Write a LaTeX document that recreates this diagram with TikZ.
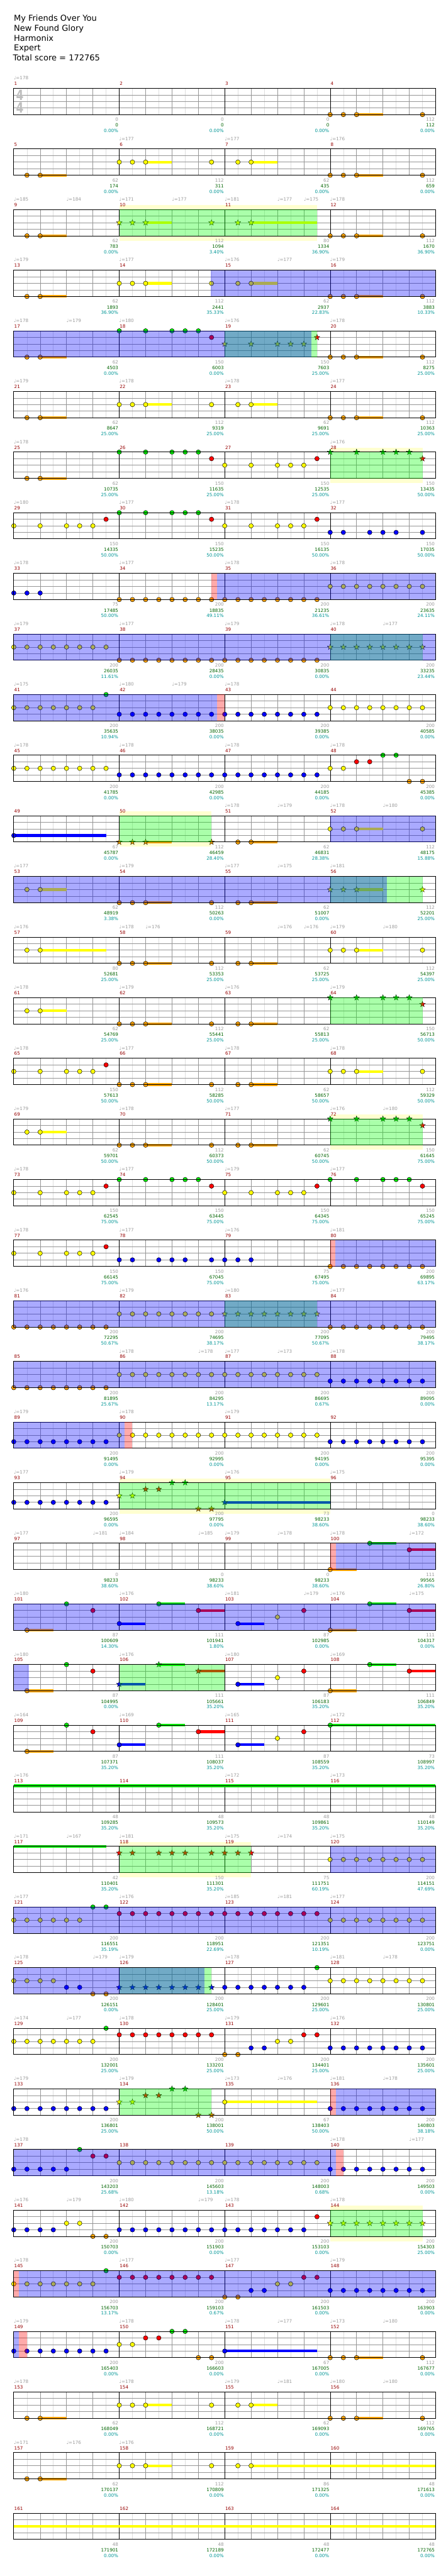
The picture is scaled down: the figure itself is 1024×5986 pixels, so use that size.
\documentclass[tikz,border=0pt]{standalone}
\usepackage{fontspec}
\setmainfont{DejaVu Sans}
\usetikzlibrary{shapes.geometric}

\definecolor{lane0}{RGB}{0,240,0}
\definecolor{lane1}{RGB}{255,0,0}
\definecolor{lane2}{RGB}{255,255,0}
\definecolor{lane3}{RGB}{0,0,255}
\definecolor{lane4}{RGB}{255,165,0}
\definecolor{gaingrey}{RGB}{155,155,155}
\definecolor{scoregreen}{RGB}{0,100,0}
\definecolor{pctteal}{RGB}{0,150,150}
\definecolor{barred}{RGB}{150,0,0}
\definecolor{gridgrey}{RGB}{150,150,150}
\definecolor{gridlight}{RGB}{222,222,222}
\definecolor{bandyellow}{RGB}{255,255,208}
\definecolor{siggrey}{RGB}{190,190,190}

\newcommand{\nonempty}[2]{\if\relax\detokenize{#1}\relax\else#2\fi}

% row, tempos, gain/score/pct, overlays (0 band, 1 phrase, 2 star power, 3 start), notes, stars, sustains
\newcommand{\chartrow}[7]{%
  \pgfmathsetmacro{\rowtop}{205.3+(#1-1)*140.87}%
  \begin{scope}[xshift=32pt, yshift=-\rowtop pt, x=30.625pt, y=-1pt]
    %Bands
    \nonempty{#4}{\foreach \ov/\from/\upto in {#4}{\ifnum\ov=0\relax \fill[phraseband] (\from,-10) rectangle (\upto,72);\fi}}
    \fill[white] (0,0) rectangle (32,61);
    %Grid
    \foreach \i in {1,3,...,31} \draw[eighthline] (\i,0) -- (\i,61);
    \foreach \i in {2,4,...,30} \draw[beatline] (\i,0) -- (\i,61);
    \foreach \i in {15.25,30.5,45.75} \draw[laneline] (0,\i) -- (32,\i);
    \foreach \i in {8,16,24} \draw[barline] (\i,0) -- (\i,61);
    %Sustains
    \nonempty{#7}{\foreach \lane/\from/\upto in {#7} \fill[fill=lane\lane] (\from,{\lane*15.25-3}) rectangle (\upto,{\lane*15.25+3});}
    %Notes
    \nonempty{#5}{\foreach \lane/\from/\upto in {#5}{\foreach \pos in {\from,...,\upto} \node[gem, fill=lane\lane] (g#1-\lane-\pos) at (\pos,{\lane*15.25}) {};}}
    \nonempty{#6}{\foreach \lane/\from/\upto in {#6}{\foreach \pos in {\from,...,\upto} \node[gemstar, fill=lane\lane] (s#1-\lane-\pos) at (\pos,{\lane*15.25}) {};}}
    \draw[staff] (0,0) rectangle (32,61);
    %Overlays
    \nonempty{#4}{\foreach \ov/\from/\upto in {#4}{\ifcase\ov\relax\or\fill[phrase] (\from,0) rectangle (\upto,61);\or\fill[starpower] (\from,0) rectangle (\upto,61);\or\fill[activate] (\from,0) rectangle (\upto,61);\fi}}
    %Labels
    \foreach \mm in {1,...,4}{\pgfmathtruncatemacro{\mnum}{4*(#1-1)+\mm}\node[barnum] (bar\mnum) at ({8*(\mm-1)},-7) {\mnum};}
    \nonempty{#2}{\foreach \pos/\bpm in {#2} \node[tempo] (tempo#1-\pos) at (\pos,-20) {♩=\bpm};}
    \foreach[count=\mm] \pts/\tot/\pc in {#3}{%
      \node[gainlabel]  (gain#1-\mm)  at ({8*\mm},76.4)  {\pts};
      \node[scorelabel] (score#1-\mm) at ({8*\mm},89.7)  {\tot};
      \node[pctlabel]   (pct#1-\mm)   at ({8*\mm},102.7) {\pc\%};}
  \end{scope}}

\begin{document}
\begin{tikzpicture}[x=1pt, y=-1pt,
		small/.style = {inner sep=0pt, font=\fontsize{10.5}{12}\selectfont},
		gem/.style = {circle, draw=black, line width=0.7pt, minimum size=10.5pt, inner sep=0pt},
		gemstar/.style = {star, star points=5, star point ratio=2.4, draw=black, line width=0.5pt, minimum size=14pt, inner sep=0pt},
		eighthline/.style = {draw=gridlight, line width=0.8pt},
		beatline/.style = {draw=gridgrey, line width=0.9pt},
		laneline/.style = {draw=gridgrey, line width=1.1pt},
		barline/.style = {draw=black, line width=0.8pt},
		staff/.style = {draw=black, line width=1.4pt},
		phraseband/.style = {fill=bandyellow},
		phrase/.style = {fill={rgb,255:red,0;green,255;blue,0}, opacity=0.333},
		starpower/.style = {fill={rgb,255:red,0;green,0;blue,255}, opacity=0.333},
		activate/.style = {fill={rgb,255:red,255;green,0;blue,0}, opacity=0.333},
		barnum/.style = {small, anchor=base west, xshift=1pt, text=barred},
		tempo/.style = {small, anchor=base west, text=gaingrey},
		gainlabel/.style = {small, anchor=base east, xshift=-2pt, text=gaingrey},
		scorelabel/.style = {small, anchor=base east, xshift=-2pt, text=scoregreen},
		pctlabel/.style = {small, anchor=base east, xshift=-2pt, text=pctteal},
		title/.style = {anchor=base west, inner sep=0pt, font=\fontsize{19}{22}\selectfont},
		timesig/.style = {inner sep=0pt, text=siggrey, font=\bfseries\fontsize{33}{33}\selectfont}
		]

	\fill[white] (0,0) rectangle (1024,5986);
	\useasboundingbox (0,0) rectangle (1024,5986);

	%Header
	\node[title] (song)   at (32,49.3)  {My Friends Over You};
	\node[title] (artist) at (32,72)    {New Found Glory};
	\node[title] (author) at (32,95.3)  {Harmonix};
	\node[title] (level)  at (32,118)   {Expert};
	\node[title] (total)  at (30,141.3) {Total score = 172765};

	%Rows
	\chartrow{1}{0/178}{0/0/0.00, 0/0/0.00, 0/0/0.00, 112/112/0.00}{}{4/24/26, 4/31/31}{}{4/26/28}
	\node[timesig] (sig-up)   at (46,220.8) {\scalebox{0.75}[1]{4}};
	\node[timesig] (sig-down) at (46,250.8) {\scalebox{0.75}[1]{4}};
	\chartrow{2}{8/177, 16/177, 24/176}{62/174/0.00, 112/311/0.00, 62/435/0.00, 112/659/0.00}{}{4/1/2, 2/8/10, 2/15/15, 2/17/18, 4/24/26, 4/31/31}{}{4/2/4, 2/10/12, 2/18/20, 4/26/28}
	\chartrow{3}{0/185, 4/184, 8/171, 12/177, 16/181, 20/177, 22/175, 24/178}{62/783/0.00, 112/1094/3.40, 80/1334/36.90, 112/1670/36.90}{0/8/23, 1/8/23}{4/1/2, 4/24/26, 4/31/31}{2/8/10, 2/15/15, 2/17/18}{4/2/4, 2/10/12, 2/18/23, 4/26/28}
	\chartrow{4}{0/179, 8/177, 16/176, 20/177, 24/179}{62/1893/36.90, 112/2441/35.33, 62/2937/22.83, 112/3883/10.33}{2/14.95/32}{4/1/2, 2/8/10, 2/15/15, 2/17/18, 4/24/26, 4/31/31}{}{4/2/4, 2/10/12, 2/18/20, 4/26/28}
	\chartrow{5}{0/178, 4/179, 8/180, 16/176, 24/178}{62/4503/0.00, 150/6003/0.00, 150/7603/25.00, 112/8275/25.00}{1/16/23, 2/0/22.6}{4/1/2, 0/8/8, 0/10/10, 0/12/14, 1/15/15, 4/24/26, 4/31/31}{2/16/16, 2/18/18, 2/20/22, 1/23/23}{4/2/4, 4/26/28}
	\chartrow{6}{0/179, 8/178, 16/178, 24/177}{62/8647/25.00, 112/9319/25.00, 62/9691/25.00, 112/10363/25.00}{}{4/1/2, 2/8/10, 2/15/15, 2/17/18, 4/24/26, 4/31/31}{}{4/2/4, 2/10/12, 2/18/20, 4/26/28}
	\chartrow{7}{0/178, 24/176}{62/10735/25.00, 150/11635/25.00, 150/12535/25.00, 150/13435/50.00}{0/24/31, 1/24/31}{4/1/2, 0/8/8, 0/10/10, 0/12/14, 1/15/15, 2/16/16, 2/18/18, 2/20/22, 1/23/23}{0/24/24, 0/26/26, 0/28/30, 1/31/31}{4/2/4}
	\chartrow{8}{0/180, 8/177, 16/178, 24/177}{150/14335/50.00, 150/15235/50.00, 150/16135/50.00, 150/17035/50.00}{}{2/0/0, 2/2/2, 2/4/6, 1/7/7, 0/8/8, 0/10/10, 0/12/14, 1/15/15, 2/16/16, 2/18/18, 2/20/22, 1/23/23, 3/24/25, 3/27/29, 3/31/31}{}{}
	\chartrow{9}{0/178, 8/177, 16/178, 24/178}{75/17485/50.00, 200/18835/49.11, 200/21235/36.61, 200/23635/24.11}{3/15/15.4, 2/15.4/32}{3/0/2, 4/8/23, 2/24/31}{}{}
	\chartrow{10}{0/179, 8/177, 16/179, 24/178, 28/177}{200/26035/11.61, 200/28435/0.00, 200/30835/0.00, 200/33235/23.44}{1/24/31, 2/0/32}{2/0/7, 4/8/23}{2/24/31}{}
	\chartrow{11}{0/175, 8/180, 12/179, 16/178}{200/35635/10.94, 200/38035/0.00, 200/39385/0.00, 200/40585/0.00}{2/0/15.4, 3/15.4/16}{2/0/6, 0/7/7, 3/8/23, 2/24/31}{}{}
	\chartrow{12}{0/178, 8/178, 16/178, 24/178}{200/41785/0.00, 200/42985/0.00, 200/44185/0.00, 200/45385/0.00}{}{2/0/7, 3/8/23, 2/24/25, 1/26/27, 0/28/29, 4/30/31}{}{}
	\chartrow{13}{16/178, 20/179, 24/178, 28/180}{67/45787/0.00, 112/46459/28.40, 62/46831/28.38, 112/48175/15.88}{0/8/15, 1/8/15, 2/24/32}{3/0/0, 4/17/18, 2/24/26, 2/31/31}{4/8/10, 4/15/15}{3/0/7, 4/10/12, 4/18/20, 2/26/28}
	\chartrow{14}{0/177, 8/179, 16/177, 20/175, 24/181}{62/48919/3.38, 112/50263/0.00, 62/51007/0.00, 112/52201/25.00}{1/24/31, 2/0/28.32}{2/1/2, 4/8/10, 4/15/15, 4/17/18}{2/24/26, 2/31/31}{2/2/4, 4/10/12, 4/18/20, 2/26/28}
	\chartrow{15}{0/176, 8/178, 10/176, 20/176, 22/176, 24/179, 28/180}{80/52681/25.00, 112/53353/25.00, 62/53725/25.00, 112/54397/25.00}{}{2/1/2, 4/8/10, 4/15/15, 4/17/18, 2/24/26, 2/31/31}{}{2/2/7, 4/10/12, 4/18/20, 2/26/28}
	\chartrow{16}{0/178, 8/179, 16/176, 24/179}{62/54769/25.00, 112/55441/25.00, 62/55813/25.00, 150/56713/50.00}{1/24/31}{2/1/2, 4/8/10, 4/15/15, 4/17/18}{0/24/24, 0/26/26, 0/28/30, 1/31/31}{2/2/4, 4/10/12, 4/18/20}
	\chartrow{17}{0/178, 8/177, 16/178, 24/178}{150/57613/50.00, 112/58285/50.00, 62/58657/50.00, 112/59329/50.00}{}{2/0/0, 2/2/2, 2/4/6, 1/7/7, 4/8/10, 4/15/15, 4/17/18, 2/24/26, 2/31/31}{}{4/10/12, 4/18/20, 2/26/28}
	\chartrow{18}{0/179, 8/178, 16/177, 24/176, 28/180}{62/59701/50.00, 112/60373/50.00, 62/60745/50.00, 150/61645/75.00}{0/24/31, 1/24/31}{2/1/2, 4/8/10, 4/15/15, 4/17/18}{0/24/24, 0/26/26, 0/28/30, 1/31/31}{2/2/4, 4/10/12, 4/18/20}
	\chartrow{19}{0/178, 8/177, 16/179, 24/177}{150/62545/75.00, 150/63445/75.00, 150/64345/75.00, 150/65245/75.00}{}{2/0/0, 2/2/2, 2/4/6, 1/7/7, 0/8/8, 0/10/10, 0/12/14, 1/15/15, 2/16/16, 2/18/18, 2/20/22, 1/23/23, 0/24/24, 0/26/26, 0/28/30, 1/31/31}{}{}
	\chartrow{20}{0/178, 8/177, 16/176, 24/181}{150/66145/75.00, 150/67045/75.00, 75/67495/75.00, 200/69895/63.17}{3/24/24.4, 2/24.4/32}{2/0/0, 2/2/2, 2/4/6, 1/7/7, 3/8/9, 3/11/13, 3/15/18, 4/24/31}{}{}
	\chartrow{21}{0/176, 8/179, 16/180, 24/177}{200/72295/50.67, 200/74695/38.17, 200/77095/50.67, 200/79495/38.17}{1/16/23, 2/0/32}{4/0/7, 2/8/15, 4/24/31}{2/16/23}{}
	\chartrow{22}{8/178, 14/178, 16/177, 20/173, 24/178}{200/81895/25.67, 200/84295/13.17, 200/86695/0.67, 200/89095/0.00}{2/0/32}{4/0/7, 2/8/23, 3/24/31}{}{}
	\chartrow{23}{0/179, 8/178, 16/179}{200/91495/0.00, 200/92995/0.00, 200/94195/0.00, 200/95395/0.00}{2/0/8.42, 3/8.42/9}{3/0/7, 2/8/23, 3/24/31}{}{}
	\chartrow{24}{0/177, 8/179, 16/176, 24/175}{200/96595/0.00, 200/97795/0.00, 73/98233/38.60, 0/98233/38.60}{0/8/24, 1/8/24}{3/0/7}{2/8/9, 1/10/11, 0/12/13, 4/14/15, 3/16/16}{3/16/24}
	\chartrow{25}{0/177, 6/181, 8/184, 14/185, 16/179, 20/178, 24/178, 30/172}{0/98233/38.60, 0/98233/38.60, 0/98233/38.60, 111/99565/26.80}{3/24/24.42, 2/24.42/32}{4/24/24, 0/27/27, 1/30/30}{}{4/24/26, 0/27/29, 1/30/32}
	\chartrow{26}{0/180, 8/176, 16/181, 22/179, 24/176, 30/175}{87/100609/14.30, 111/101941/1.80, 87/102985/0.00, 111/104317/0.00}{2/0/32}{4/1/1, 0/4/4, 1/6/6, 3/8/8, 0/11/11, 1/14/14, 3/17/17, 2/20/20, 1/22/22, 4/24/24, 0/27/27, 1/30/30}{}{4/1/3, 3/8/10, 0/11/13, 1/14/16, 3/17/19, 4/24/26, 0/27/29, 1/30/32}
	\chartrow{27}{0/180, 8/176, 16/180, 24/169}{87/104995/0.00, 111/105661/35.20, 87/106183/35.20, 111/106849/35.20}{1/8/16, 2/0/1.13}{4/1/1, 0/4/4, 1/6/6, 3/17/17, 2/20/20, 1/22/22, 4/24/24, 0/27/27, 1/30/30}{3/8/8, 0/11/11, 1/14/14}{4/1/3, 3/8/10, 0/11/13, 1/14/16, 3/17/19, 4/24/26, 0/27/29, 1/30/32}
	\chartrow{28}{0/164, 8/169, 16/165, 24/172}{87/107371/35.20, 111/108037/35.20, 87/108559/35.20, 73/108997/35.20}{}{4/1/1, 0/4/4, 1/6/6, 3/8/8, 0/11/11, 1/14/14, 3/17/17, 2/20/20, 1/22/22, 0/24/24}{}{4/1/3, 3/8/10, 0/11/13, 1/14/16, 3/17/19, 0/24/32}
	\chartrow{29}{0/176, 16/172, 24/173}{48/109285/35.20, 48/109573/35.20, 48/109861/35.20, 48/110149/35.20}{}{}{}{0/0/32}
	\chartrow{30}{0/171, 4/167, 8/181, 16/175, 20/174, 24/175}{42/110401/35.20, 150/111301/35.20, 75/111751/60.19, 200/114151/47.69}{0/8/18, 1/8/18, 2/24/32}{2/24/31}{1/8/9, 1/11/13, 1/15/18}{0/0/7}
	\chartrow{31}{0/177, 8/176, 16/185, 20/181, 24/177}{200/116551/35.19, 200/118951/22.69, 200/121351/10.19, 200/123751/0.00}{2/0/32}{2/0/5, 0/6/7, 1/8/23, 2/24/31}{}{}
	\chartrow{32}{0/178, 6/179, 8/179, 16/178, 24/181, 28/178}{200/126151/0.00, 200/128401/25.00, 200/129601/25.00, 200/130801/25.00}{1/8/15, 2/0/14.48}{2/0/3, 3/4/5, 4/6/7, 3/16/22, 0/23/23, 2/24/31}{3/8/15}{}
	\chartrow{33}{0/174, 4/177, 8/178, 16/179, 24/176}{200/132001/25.00, 200/133201/25.00, 200/134401/25.00, 200/135601/25.00}{}{2/0/6, 0/7/7, 1/8/15, 4/16/17, 3/18/19, 2/20/21, 1/22/23, 3/24/31}{}{}
	\chartrow{34}{0/179, 8/179, 16/173, 20/176, 24/181, 28/178}{200/136801/25.00, 200/138001/50.00, 67/138403/50.00, 200/140803/38.18}{1/8/15, 3/24/24.42, 2/24.42/32}{3/0/7, 2/16/16, 3/24/31}{2/8/9, 1/10/11, 0/12/13, 4/14/15}{2/16/23}
	\chartrow{35}{0/178, 24/178, 30/177}{200/143203/25.68, 200/145603/13.18, 200/148003/0.68, 200/149503/0.00}{2/0/24.42, 3/24.42/25}{3/0/4, 0/5/5, 1/6/7, 2/8/23, 3/24/31}{}{}
	\chartrow{36}{0/176, 4/179, 8/180, 14/179, 16/178, 24/178}{200/150703/0.00, 200/151903/0.00, 200/153103/0.00, 200/154303/25.00}{0/24/31, 1/24/31}{3/0/3, 2/4/5, 4/6/7, 3/8/22, 1/23/23}{2/24/31}{}
	\chartrow{37}{0/178, 8/177, 16/177, 24/179}{200/156703/13.17, 200/159103/0.67, 200/161503/0.00, 200/163903/0.00}{3/0/0.4, 2/0.4/32}{2/0/6, 0/7/7, 1/8/15, 4/16/17, 3/18/19, 2/20/21, 1/22/23, 3/24/31}{}{}
	\chartrow{38}{0/179, 8/178, 16/178, 20/177, 24/173, 28/180}{200/165403/0.00, 200/166603/0.00, 67/167005/0.00, 112/167677/0.00}{2/0/0.4, 3/0.4/1}{3/0/7, 2/8/9, 1/10/11, 0/12/13, 4/14/15, 3/16/16, 4/24/26, 4/31/31}{}{3/16/23, 4/26/28}
	\chartrow{39}{0/178, 8/178, 16/179, 20/181, 24/180, 28/180}{62/168049/0.00, 112/168721/0.00, 62/169093/0.00, 112/169765/0.00}{}{4/1/2, 2/8/10, 2/15/15, 2/17/18, 4/24/26, 4/31/31}{}{4/2/4, 2/10/12, 2/18/20, 4/26/28}
	\chartrow{40}{0/171, 4/176, 8/176}{62/170137/0.00, 112/170809/0.00, 86/171325/0.00, 48/171613/0.00}{}{4/1/2, 2/8/10, 2/15/15, 2/17/18}{}{4/2/4, 2/10/12, 2/18/32}
	\chartrow{41}{}{48/171901/0.00, 48/172189/0.00, 48/172477/0.00, 48/172765/0.00}{}{}{}{2/0/32}
\end{tikzpicture}
\end{document}
